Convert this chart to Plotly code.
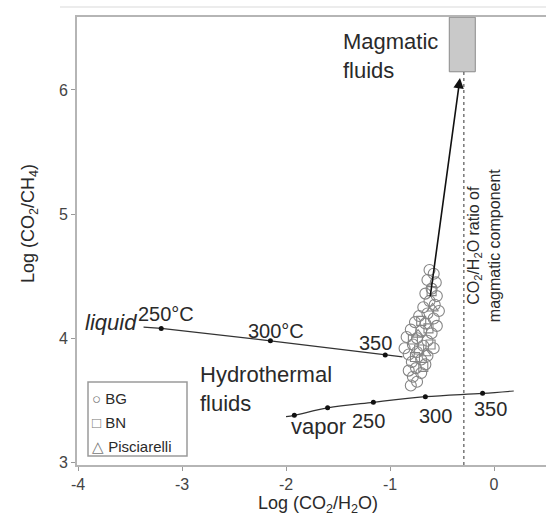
import plotly.graph_objects as go

# ---------------- data ----------------
# sample clusters (Log CO2/H2O, Log CO2/CH4)
bg_x = [-0.62, -0.58, -0.64, -0.56, -0.60, -0.66, -0.55, -0.62, -0.57, -0.68, -0.53, -0.64, -0.72,
        -0.58, -0.76, -0.66, -0.55, -0.80, -0.70, -0.60, -0.84, -0.74, -0.64, -0.78, -0.68, -0.86,
        -0.58, -0.74, -0.82, -0.64, -0.70, -0.79, -0.66, -0.75, -0.82, -0.70, -0.78, -0.74, -0.80]
bg_y = [4.55, 4.52, 4.47, 4.45, 4.40, 4.36, 4.34, 4.30, 4.27, 4.25, 4.22, 4.20, 4.18,
        4.16, 4.13, 4.12, 4.10, 4.07, 4.06, 4.04, 4.01, 4.00, 3.98, 3.95, 3.94, 3.92,
        3.92, 3.89, 3.87, 3.86, 3.83, 3.81, 3.79, 3.76, 3.74, 3.72, 3.69, 3.65, 3.62]
bn_x = [-0.60, -0.70, -0.63, -0.78, -0.72, -0.61, -0.76, -0.68]
bn_y = [4.38, 4.14, 4.08, 3.99, 3.91, 3.95, 3.85, 3.77]
pis_x = [-0.59, -0.73, -0.66]
pis_y = [4.24, 4.03, 3.88]

# equilibrium curves
liq_line_x = [-3.37, -3.20, -2.15, -1.046, -0.88]
liq_line_y = [4.09, 4.08, 3.98, 3.866, 3.85]
liq_pts_x = [-3.20, -2.15, -1.046]
liq_pts_y = [4.08, 3.98, 3.866]
liq_labels = ["250°C", "300°C", "350"]

vap_line_x = [-2.00, -1.92, -1.60, -1.16, -0.66, -0.11, 0.19]
vap_line_y = [3.37, 3.38, 3.44, 3.485, 3.53, 3.557, 3.576]
vap_pts_x = [-1.92, -1.60, -1.16, -0.66, -0.11]
vap_pts_y = [3.38, 3.44, 3.485, 3.53, 3.557]
vap_labels = ["250", "300", "350"]

# magmatic end-member box & arrow
mag_x = [-0.43, -0.18]
mag_y = [6.146, 6.585]
arrow_from = (-0.615, 4.325)
arrow_to = (-0.327, 6.096)
mag_ratio_x = -0.29

x_ticks = [-4, -3, -2, -1, 0]
y_ticks = [3, 4, 5, 6]
x_range = [-4.01, 0.50]
y_range = [2.98, 6.587]

# ---------------- figure ----------------
FONT = "Liberation Sans, Arial, sans-serif"
TXT = "#2a2a2a"
W, H = 546, 520
ML, MR, MT, MB = 77, 0, 17, 55
PW, PH = W - ML - MR, H - MT - MB


def px2paper(px, py):
    return (px - ML) / PW, (H - MB - py) / PH


fig = go.Figure()

fig.add_trace(go.Scatter(x=liq_line_x, y=liq_line_y, mode="lines",
                         line=dict(color="#333", width=1.2), showlegend=False, hoverinfo="skip"))
fig.add_trace(go.Scatter(x=liq_pts_x, y=liq_pts_y, mode="markers",
                         marker=dict(color="#111", size=5), showlegend=False))
fig.add_trace(go.Scatter(x=vap_line_x, y=vap_line_y, mode="lines", line_shape="spline",
                         line=dict(color="#333", width=1.2), showlegend=False, hoverinfo="skip"))
fig.add_trace(go.Scatter(x=vap_pts_x, y=vap_pts_y, mode="markers",
                         marker=dict(color="#111", size=5), showlegend=False))

fig.add_trace(go.Scatter(x=bg_x, y=bg_y, mode="markers", name="BG",
                         marker=dict(symbol="circle-open", size=11, color="#858585",
                                     line=dict(width=1.1)), showlegend=False))
fig.add_trace(go.Scatter(x=bn_x, y=bn_y, mode="markers", name="BN",
                         marker=dict(symbol="square-open", size=9, color="#858585",
                                     line=dict(width=1.1)), showlegend=False))
fig.add_trace(go.Scatter(x=pis_x, y=pis_y, mode="markers", name="Pisciarelli",
                         marker=dict(symbol="triangle-up-open", size=10, color="#858585",
                                     line=dict(width=1.1)), showlegend=False))

shapes = []
# magmatic box
shapes.append(dict(type="rect", xref="x", yref="y", x0=mag_x[0], x1=mag_x[1],
                   y0=mag_y[0], y1=mag_y[1], fillcolor="#c9c9c9",
                   line=dict(color="#8a8a8a", width=1)))
# dashed CO2/H2O ratio line
shapes.append(dict(type="line", xref="x", yref="y", x0=mag_ratio_x, x1=mag_ratio_x,
                   y0=y_range[0], y1=mag_y[0], line=dict(color="#555", width=1.2, dash="3px,3px")))
# faint top line (scan border)
a0, b0 = px2paper(60, 7)
shapes.append(dict(type="line", xref="paper", yref="paper", x0=a0, x1=1, y0=b0, y1=b0,
                   line=dict(color="#e6e6e6", width=1.5)))
# legend box
lx0, ly0 = px2paper(88, 456)
lx1, ly1 = px2paper(187, 382)
shapes.append(dict(type="rect", xref="paper", yref="paper", x0=lx0, x1=lx1, y0=ly0, y1=ly1,
                   line=dict(color="#9a9a9a", width=1.5), fillcolor="white"))

ann = []
big = dict(family=FONT, size=22, color=TXT)
num = dict(family=FONT, size=20, color=TXT)
ann.append(dict(x=arrow_to[0], y=arrow_to[1], ax=arrow_from[0], ay=arrow_from[1],
                xref="x", yref="y", axref="x", ayref="y", showarrow=True,
                arrowhead=2, arrowsize=1.3, arrowwidth=1.6, arrowcolor="#111", standoff=0, text=""))
ann.append(dict(x=-1.47, y=6.277, xref="x", yref="y", text="Magmatic<br>fluids",
                showarrow=False, xanchor="left", yanchor="middle", align="left", font=big))
ann.append(dict(x=-2.85, y=3.595, xref="x", yref="y", text="Hydrothermal<br>fluids",
                showarrow=False, xanchor="left", yanchor="middle", align="left", font=big))
ann.append(dict(x=-3.68, y=4.13, xref="x", yref="y", text="<i>liquid</i>",
                showarrow=False, font=big))
liq_lab_pos = [(-3.15, 4.196), (-2.10, 4.06), (-1.14, 3.96)]
for t, (xx, yy) in zip(liq_labels, liq_lab_pos):
    ann.append(dict(x=xx, y=yy, xref="x", yref="y", text=t, showarrow=False, font=num))
ann.append(dict(x=-1.69, y=3.286, xref="x", yref="y", text="vapor", showarrow=False, font=big))
vap_lab_pos = [(-1.207, 3.334), (-0.5625, 3.374), (-0.034, 3.43)]
for t, (xx, yy) in zip(vap_labels, vap_lab_pos):
    ann.append(dict(x=xx, y=yy, xref="x", yref="y", text=t, showarrow=False, font=num))
ann.append(dict(x=-0.096, y=4.75, xref="x", yref="y", textangle=-90,
                text="CO<sub>2</sub>/H<sub>2</sub>O ratio of<br>magmatic component",
                showarrow=False, font=dict(family=FONT, size=16, color=TXT)))

# axis titles
tx, ty = px2paper(318, 505)
ann.append(dict(x=tx, y=ty, xref="paper", yref="paper", showarrow=False,
                xanchor="center", yanchor="middle",
                text="Log (CO<sub>2</sub>/H<sub>2</sub>O)", font=dict(family=FONT, size=18, color=TXT)))
tx, ty = px2paper(29, 224)
ann.append(dict(x=tx, y=ty, xref="paper", yref="paper", showarrow=False, textangle=-90,
                xanchor="center", yanchor="middle",
                text="Log (CO<sub>2</sub>/CH<sub>4</sub>)", font=dict(family=FONT, size=18, color=TXT)))

# legend entries
leg_items = [("○", "BG"), ("□", "BN"), ("△", "Pisciarelli")]
for (sym, lab), py in zip(leg_items, [398, 422, 446]):
    tx, ty = px2paper(90, py)
    ann.append(dict(x=tx, y=ty, xref="paper", yref="paper", showarrow=False,
                    xanchor="left", yanchor="middle",
                    text=f'<span style="color:#777">{sym}</span> {lab}',
                    font=dict(family=FONT, size=15, color=TXT)))

fig.update_layout(
    width=W, height=H, margin=dict(l=ML, r=MR, t=MT, b=MB),
    paper_bgcolor="white", plot_bgcolor="white",
    shapes=shapes, annotations=ann, showlegend=False,
    xaxis=dict(range=x_range, tickvals=x_ticks, ticktext=[str(v) for v in x_ticks],
               showgrid=False, zeroline=False, showline=True, linecolor="#b5b5b5", linewidth=2,
               mirror=True, ticks="outside", ticklen=4, tickcolor="#999",
               tickfont=dict(family=FONT, size=16, color="#444")),
    yaxis=dict(range=y_range, tickvals=y_ticks, ticktext=[str(v) for v in y_ticks],
               showgrid=False, zeroline=False, showline=True, linecolor="#b5b5b5", linewidth=2,
               ticks="outside", ticklen=4, tickcolor="#999",
               tickfont=dict(family=FONT, size=16, color="#444")),
)

fig.write_html("out.html")
